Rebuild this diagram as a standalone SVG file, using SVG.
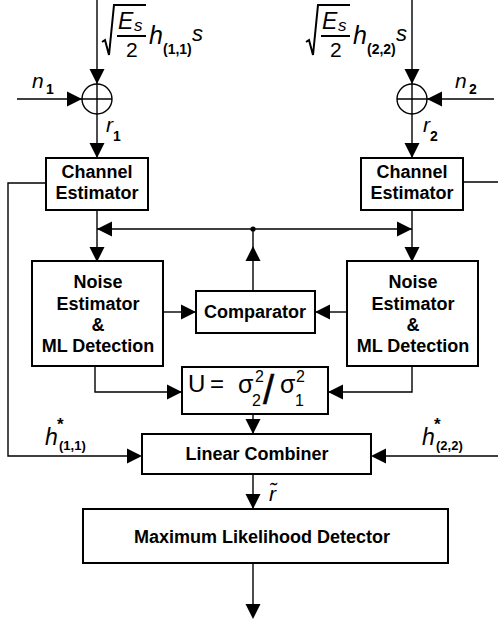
<svg xmlns="http://www.w3.org/2000/svg" xmlns:xlink="http://www.w3.org/1999/xlink" width="498" height="621" viewBox="0 0 498 621">
  <style>
    .box { fill: #fff; stroke: #000; stroke-width: 2; }
    .ln { fill: none; stroke: #000; stroke-width: 1.4; }
    .lbl { font-family: "Liberation Sans", Arial, sans-serif; font-weight: bold; font-size: 18px; text-anchor: middle; fill: #000; }
    .it { font-family: "Liberation Sans", Arial, sans-serif; font-style: italic; fill: #000; }
    .sb { font-family: "Liberation Sans", Arial, sans-serif; font-weight: bold; fill: #000; }
    .rm { font-family: "Liberation Sans", Arial, sans-serif; fill: #000; }
  </style>
  <defs>
    <!-- filled arrowhead, tip at origin, pointing right -->
    <path id="ah" d="M0,0 L-15,-7.5 L-15,7.5 Z" fill="#000"/>
  </defs>
  <rect width="498" height="621" fill="#fff"/>

  <!-- connectors -->
  <g id="connectors">
    <!-- left input branch -->
    <line class="ln" x1="97" y1="0" x2="97" y2="157"/>
    <line class="ln" x1="17" y1="99" x2="112" y2="99"/>
    <circle class="ln" cx="97" cy="99" r="15"/>
    <use xlink:href="#ah" transform="translate(97,84) rotate(90)"/>
    <use xlink:href="#ah" transform="translate(82,99)"/>
    <use xlink:href="#ah" transform="translate(97,158) rotate(90)"/>
    <!-- right input branch -->
    <line class="ln" x1="412" y1="0" x2="412" y2="157"/>
    <line class="ln" x1="397" y1="99" x2="494" y2="99"/>
    <circle class="ln" cx="412" cy="99" r="15"/>
    <use xlink:href="#ah" transform="translate(412,84) rotate(90)"/>
    <use xlink:href="#ah" transform="translate(427,99) rotate(180)"/>
    <use xlink:href="#ah" transform="translate(412,158) rotate(90)"/>
    <!-- channel estimates to the combiner -->
    <polyline class="ln" points="46,183 8,183 8,456 140,456"/>
    <use xlink:href="#ah" transform="translate(142,456)"/>
    <polyline class="ln" points="463,182 498,182"/>
    <line class="ln" x1="498" y1="456" x2="373" y2="456"/>
    <use xlink:href="#ah" transform="translate(371,456) rotate(180)"/>
    <!-- channel estimators to noise estimators -->
    <line class="ln" x1="97" y1="210" x2="97" y2="260"/>
    <use xlink:href="#ah" transform="translate(97,262) rotate(90)"/>
    <line class="ln" x1="412" y1="210" x2="412" y2="260"/>
    <use xlink:href="#ah" transform="translate(412,262) rotate(90)"/>
    <!-- comparator feedback -->
    <line class="ln" x1="97" y1="229" x2="412" y2="229"/>
    <use xlink:href="#ah" transform="translate(97,229) rotate(180)"/>
    <use xlink:href="#ah" transform="translate(412,229)"/>
    <circle cx="253" cy="229" r="2.6" fill="#000"/>
    <line class="ln" x1="253" y1="229" x2="253" y2="291"/>
    <use xlink:href="#ah" transform="translate(253,246) rotate(-90)"/>
    <!-- noise estimators to comparator -->
    <line class="ln" x1="163" y1="312" x2="195" y2="312"/>
    <use xlink:href="#ah" transform="translate(196,312)"/>
    <line class="ln" x1="347" y1="312" x2="316" y2="312"/>
    <use xlink:href="#ah" transform="translate(315,312) rotate(180)"/>
    <!-- noise estimators to ratio block -->
    <polyline class="ln" points="95,366 95,392 181,392"/>
    <use xlink:href="#ah" transform="translate(182,392)"/>
    <polyline class="ln" points="412,366 412,392 329,392"/>
    <use xlink:href="#ah" transform="translate(328,392) rotate(180)"/>
    <!-- ratio to combiner, combiner to detector, output -->
    <line class="ln" x1="253" y1="414" x2="253" y2="433"/>
    <use xlink:href="#ah" transform="translate(253,434) rotate(90)"/>
    <line class="ln" x1="253" y1="474" x2="253" y2="508"/>
    <use xlink:href="#ah" transform="translate(253,509) rotate(90)"/>
    <line class="ln" x1="253" y1="563" x2="253" y2="617"/>
    <use xlink:href="#ah" transform="translate(253,619) rotate(90)"/>
  </g>

  <!-- input signal expressions -->
  <g id="input1">
    <polyline fill="none" stroke="#000" stroke-width="2" points="102,42 105,40 109,55 114,5 146,5"/>
    <text class="it" x="118" y="29" font-size="23">E</text>
    <text class="it" x="134" y="31" font-size="17">s</text>
    <line stroke="#000" stroke-width="2" x1="117" y1="36" x2="146" y2="36"/>
    <text class="rm" x="126" y="57" font-size="21">2</text>
    <text class="it" x="149" y="44" font-size="25">h</text>
    <text class="sb" x="163" y="54" font-size="14">(1,1)</text>
    <text class="it" x="192" y="41" font-size="22">s</text>
    <text class="it" x="32" y="88" font-size="21">n</text>
    <text class="sb" x="46" y="94" font-size="14">1</text>
    <text class="it" x="106" y="132" font-size="21">r</text>
    <text class="sb" x="113" y="141" font-size="14">1</text>
  </g>
  <g id="input2">
    <polyline fill="none" stroke="#000" stroke-width="2" points="306,42 309,40 313,55 318,5 350,5"/>
    <text class="it" x="322" y="29" font-size="23">E</text>
    <text class="it" x="338" y="31" font-size="17">s</text>
    <line stroke="#000" stroke-width="2" x1="321" y1="36" x2="350" y2="36"/>
    <text class="rm" x="330" y="57" font-size="21">2</text>
    <text class="it" x="353" y="44" font-size="25">h</text>
    <text class="sb" x="367" y="54" font-size="14">(2,2)</text>
    <text class="it" x="396" y="41" font-size="22">s</text>
    <text class="it" x="455" y="88" font-size="21">n</text>
    <text class="sb" x="469" y="94" font-size="14">2</text>
    <text class="it" x="423" y="132" font-size="21">r</text>
    <text class="sb" x="430" y="141" font-size="14">2</text>
  </g>

  <g id="channel-estimator-1">
    <rect class="box" x="46" y="158" width="102" height="52"/>
    <text class="lbl" x="97" y="178">Channel</text>
    <text class="lbl" x="97" y="199">Estimator</text>
  </g>
  <g id="channel-estimator-2">
    <rect class="box" x="361" y="158" width="102" height="52"/>
    <text class="lbl" x="412" y="178">Channel</text>
    <text class="lbl" x="412" y="199">Estimator</text>
  </g>

  <g id="noise-estimator-1">
    <rect class="box" x="32" y="261" width="131" height="105"/>
    <text class="lbl" x="98" y="288">Noise</text>
    <text class="lbl" x="98" y="310">Estimator</text>
    <text class="lbl" x="98" y="331">&amp;</text>
    <text class="lbl" x="98" y="352">ML Detection</text>
  </g>
  <g id="noise-estimator-2">
    <rect class="box" x="347" y="261" width="131" height="105"/>
    <text class="lbl" x="413" y="288">Noise</text>
    <text class="lbl" x="413" y="310">Estimator</text>
    <text class="lbl" x="413" y="331">&amp;</text>
    <text class="lbl" x="413" y="352">ML Detection</text>
  </g>

  <g id="comparator">
    <rect class="box" x="196" y="291" width="119" height="42"/>
    <text class="lbl" x="255" y="318">Comparator</text>
  </g>

  <g id="ratio">
    <rect class="box" x="182" y="367" width="146" height="47"/>
    <text class="rm" x="188" y="392" font-size="24">U</text>
    <text class="rm" x="210" y="392" font-size="24">=</text>
    <text class="rm" x="238" y="393" font-size="25">σ</text>
    <text class="rm" x="255" y="382" font-size="16">2</text>
    <text class="rm" x="252" y="406" font-size="16">2</text>
    <text class="rm" x="263" y="404" font-size="40" stroke="#000" stroke-width="0.5">/</text>
    <text class="rm" x="280" y="393" font-size="25">σ</text>
    <text class="rm" x="296" y="382" font-size="16">2</text>
    <text class="rm" x="295" y="406" font-size="16">1</text>
  </g>

  <g id="linear-combiner">
    <rect class="box" x="142" y="434" width="229" height="40"/>
    <text class="lbl" x="257" y="460">Linear Combiner</text>
    <text class="it" x="45" y="445" font-size="23">h</text>
    <text class="sb" x="57" y="430" font-size="17">*</text>
    <text class="sb" x="59" y="450" font-size="13">(1,1)</text>
    <text class="it" x="422" y="445" font-size="23">h</text>
    <text class="sb" x="434" y="430" font-size="17">*</text>
    <text class="sb" x="436" y="450" font-size="13">(2,2)</text>
    <text class="it" x="269" y="501" font-size="21">r&#x303;</text>
  </g>

  <g id="ml-detector">
    <rect class="box" x="83" y="509" width="365" height="54"/>
    <text class="lbl" x="262" y="543">Maximum Likelihood Detector</text>
  </g>
</svg>
